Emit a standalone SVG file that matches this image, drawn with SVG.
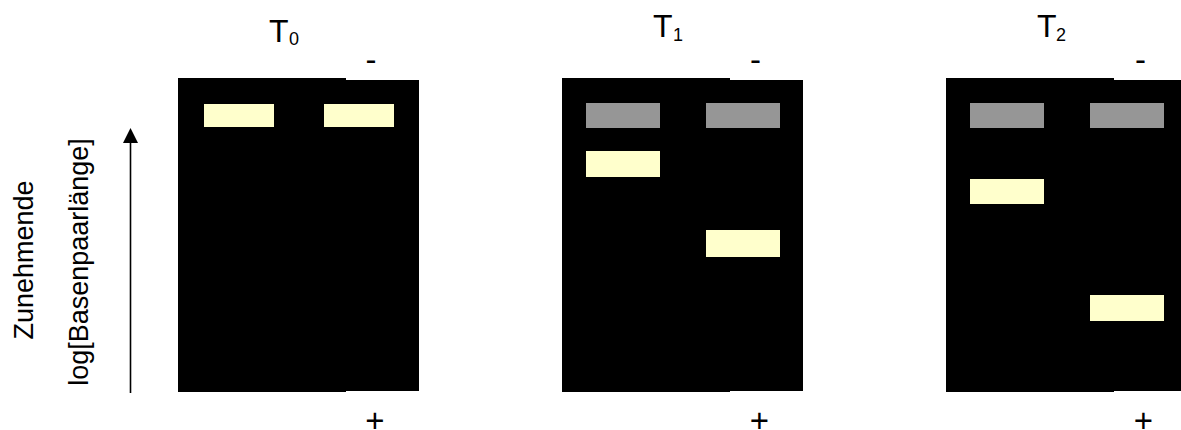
<svg xmlns="http://www.w3.org/2000/svg" width="1181" height="430" viewBox="0 0 1181 430">
<style>
.gel{fill:#000000}
.y{fill:#FFFFCC}
.g{fill:#969696}
.t{font-family:"Liberation Sans",Arial,sans-serif;fill:#000000}
.big{font-size:32px}
.sub{font-size:18px}
.pm{font-size:33px;text-anchor:middle}
.lab{font-size:27px;text-anchor:middle}
</style>
<rect width="1181" height="430" fill="#ffffff"/>
<g id="gel-t0">
<rect class="gel" x="178" y="78" width="168" height="314"/>
<rect class="gel" x="346" y="80" width="73" height="311"/>
<rect class="y" x="204" y="104" width="70" height="23"/>
<rect class="y" x="324" y="104" width="70" height="23"/>
<text class="t big" x="269" y="42">T</text><text class="t sub" x="289" y="45">0</text>
<text class="t pm" x="371" y="71">-</text>
<text class="t pm" x="375" y="431.5">+</text>
</g>
<g id="gel-t1">
<rect class="gel" x="562" y="78" width="168" height="314"/>
<rect class="gel" x="730" y="80" width="73" height="311"/>
<rect class="g" x="586" y="103" width="74" height="25"/>
<rect class="g" x="706" y="103" width="74" height="25"/>
<rect class="y" x="586" y="151" width="74" height="26"/>
<rect class="y" x="706" y="230" width="74" height="27"/>
<text class="t big" x="653" y="37">T</text><text class="t sub" x="673" y="41">1</text>
<text class="t pm" x="755.5" y="71">-</text>
<text class="t pm" x="759.5" y="431.5">+</text>
</g>
<g id="gel-t2">
<rect class="gel" x="946" y="78" width="168" height="314"/>
<rect class="gel" x="1114" y="80" width="73" height="311"/>
<rect class="g" x="970" y="103" width="74" height="25"/>
<rect class="g" x="1090" y="103" width="74" height="25"/>
<rect class="y" x="970" y="179" width="74" height="25"/>
<rect class="y" x="1090" y="295" width="74" height="26"/>
<text class="t big" x="1037" y="37">T</text><text class="t sub" x="1056" y="41">2</text>
<text class="t pm" x="1140.5" y="71">-</text>
<text class="t pm" x="1143.5" y="431.5">+</text>
</g>
<g id="axis-label">
<text class="t lab" transform="translate(33,260) rotate(-90)">Zunehmende</text>
<text class="t lab" transform="translate(88,262) rotate(-90)">log[Basenpaarlänge]</text>
</g>
<g id="connectors">
<line x1="130.5" y1="393" x2="130.5" y2="142" stroke="#000000" stroke-width="1.6"/>
<polygon points="130.5,128 123,143 138,143" fill="#000000"/>
</g>
</svg>
